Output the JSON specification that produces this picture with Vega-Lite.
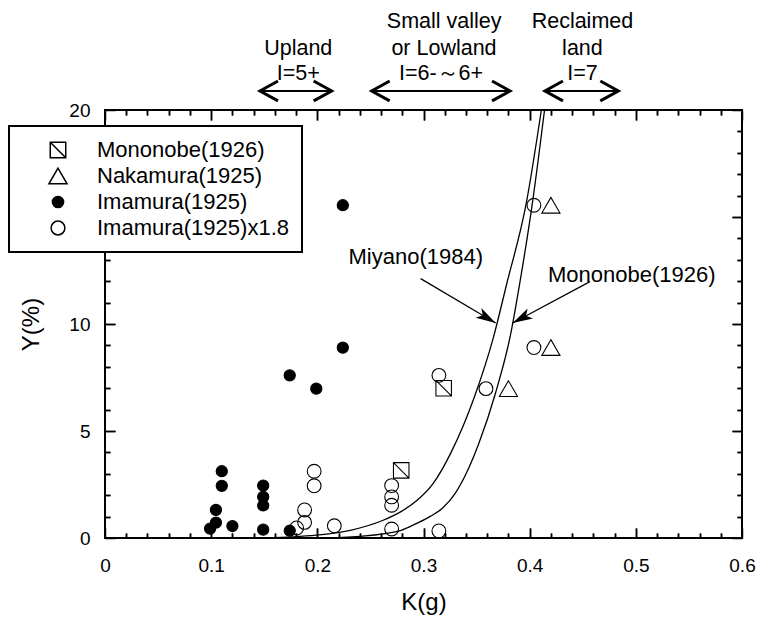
{
  "$schema": "https://vega.github.io/schema/vega-lite/v6.json",
  "width": 637,
  "height": 428,
  "autosize": {"type": "none"},
  "padding": {"left": 105, "top": 110, "right": 16, "bottom": 80},
  "background": "white",
  "config": {
    "view": {"stroke": "black", "strokeWidth": 2},
    "font": "Liberation Sans",
    "legend": {"strokeWidth": 2},
    "axis": {"gridColor": "black", "gridWidth": 1.5, "gridOpacity": 1, "domain": false, "ticks": false, "labelColor": "black", "titleColor": "black", "labelFont": "Liberation Sans", "titleFont": "Liberation Sans", "titleFontWeight": "normal"}
  },
  "datasets": {
    "points": [
      {"source": "Mononobe(1926)", "K": 0.279, "Y": 3.16},
      {"source": "Mononobe(1926)", "K": 0.319, "Y": 7.0},
      {"source": "Nakamura(1925)", "K": 0.380, "Y": 6.98},
      {"source": "Nakamura(1925)", "K": 0.420, "Y": 15.55},
      {"source": "Nakamura(1925)", "K": 0.420, "Y": 8.9},
      {"source": "Imamura(1925)", "K": 0.099, "Y": 0.44},
      {"source": "Imamura(1925)", "K": 0.1045, "Y": 0.72},
      {"source": "Imamura(1925)", "K": 0.1045, "Y": 1.31},
      {"source": "Imamura(1925)", "K": 0.110, "Y": 2.44},
      {"source": "Imamura(1925)", "K": 0.110, "Y": 3.12},
      {"source": "Imamura(1925)", "K": 0.120, "Y": 0.56},
      {"source": "Imamura(1925)", "K": 0.149, "Y": 2.45},
      {"source": "Imamura(1925)", "K": 0.149, "Y": 1.92},
      {"source": "Imamura(1925)", "K": 0.149, "Y": 1.52},
      {"source": "Imamura(1925)", "K": 0.149, "Y": 0.39},
      {"source": "Imamura(1925)", "K": 0.174, "Y": 0.34},
      {"source": "Imamura(1925)", "K": 0.174, "Y": 7.6},
      {"source": "Imamura(1925)", "K": 0.199, "Y": 6.98},
      {"source": "Imamura(1925)", "K": 0.224, "Y": 15.55},
      {"source": "Imamura(1925)", "K": 0.224, "Y": 8.9},
      {"source": "Imamura(1925)x1.8", "K": 0.1805, "Y": 0.47},
      {"source": "Imamura(1925)x1.8", "K": 0.188, "Y": 0.73},
      {"source": "Imamura(1925)x1.8", "K": 0.188, "Y": 1.31},
      {"source": "Imamura(1925)x1.8", "K": 0.197, "Y": 2.44},
      {"source": "Imamura(1925)x1.8", "K": 0.197, "Y": 3.12},
      {"source": "Imamura(1925)x1.8", "K": 0.216, "Y": 0.57},
      {"source": "Imamura(1925)x1.8", "K": 0.270, "Y": 2.45},
      {"source": "Imamura(1925)x1.8", "K": 0.270, "Y": 1.92},
      {"source": "Imamura(1925)x1.8", "K": 0.270, "Y": 1.53},
      {"source": "Imamura(1925)x1.8", "K": 0.270, "Y": 0.42},
      {"source": "Imamura(1925)x1.8", "K": 0.3145, "Y": 0.33},
      {"source": "Imamura(1925)x1.8", "K": 0.3145, "Y": 7.6},
      {"source": "Imamura(1925)x1.8", "K": 0.3588, "Y": 6.98},
      {"source": "Imamura(1925)x1.8", "K": 0.404, "Y": 15.55},
      {"source": "Imamura(1925)x1.8", "K": 0.404, "Y": 8.9}
    ],
    "curves": [
      {"curve": "Miyano(1984)", "K": 0.150, "Y": 0.0},
      {"curve": "Miyano(1984)", "K": 0.177, "Y": 0.05},
      {"curve": "Miyano(1984)", "K": 0.199, "Y": 0.13},
      {"curve": "Miyano(1984)", "K": 0.231, "Y": 0.36},
      {"curve": "Miyano(1984)", "K": 0.262, "Y": 0.83},
      {"curve": "Miyano(1984)", "K": 0.278, "Y": 1.21},
      {"curve": "Miyano(1984)", "K": 0.294, "Y": 1.76},
      {"curve": "Miyano(1984)", "K": 0.309, "Y": 2.54},
      {"curve": "Miyano(1984)", "K": 0.326, "Y": 4.0},
      {"curve": "Miyano(1984)", "K": 0.348, "Y": 6.6},
      {"curve": "Miyano(1984)", "K": 0.366, "Y": 9.4},
      {"curve": "Miyano(1984)", "K": 0.378, "Y": 11.8},
      {"curve": "Miyano(1984)", "K": 0.397, "Y": 15.7},
      {"curve": "Miyano(1984)", "K": 0.411, "Y": 20.0},
      {"curve": "Mononobe(1926)", "K": 0.200, "Y": 0.0},
      {"curve": "Mononobe(1926)", "K": 0.240, "Y": 0.08},
      {"curve": "Mononobe(1926)", "K": 0.279, "Y": 0.36},
      {"curve": "Mononobe(1926)", "K": 0.293, "Y": 0.67},
      {"curve": "Mononobe(1926)", "K": 0.306, "Y": 1.0},
      {"curve": "Mononobe(1926)", "K": 0.318, "Y": 1.4},
      {"curve": "Mononobe(1926)", "K": 0.330, "Y": 2.1},
      {"curve": "Mononobe(1926)", "K": 0.342, "Y": 3.2},
      {"curve": "Mononobe(1926)", "K": 0.352, "Y": 4.4},
      {"curve": "Mononobe(1926)", "K": 0.368, "Y": 6.8},
      {"curve": "Mononobe(1926)", "K": 0.382, "Y": 9.5},
      {"curve": "Mononobe(1926)", "K": 0.391, "Y": 12.0},
      {"curve": "Mononobe(1926)", "K": 0.403, "Y": 15.8},
      {"curve": "Mononobe(1926)", "K": 0.414, "Y": 20.0}
    ],
    "labels": [
      {"text": "Upland", "K": 0.182, "Y": 22.87},
      {"text": "I=5+", "K": 0.182, "Y": 21.70},
      {"text": "Small valley", "K": 0.3195, "Y": 24.11},
      {"text": "or Lowland", "K": 0.3193, "Y": 22.87},
      {"text": "I=6-～6+", "K": 0.3165, "Y": 21.70},
      {"text": "Reclaimed", "K": 0.4497, "Y": 24.11},
      {"text": "land", "K": 0.4497, "Y": 22.87},
      {"text": "I=7", "K": 0.4497, "Y": 21.70}
    ],
    "notes": [
      {"text": "Miyano(1984)", "K": 0.2927, "Y": 13.13},
      {"text": "Mononobe(1926)", "K": 0.4962, "Y": 12.31}
    ],
    "ranges": [
      {"zone": "Upland", "K1": 0.146, "K2": 0.2135, "Y": 20.89},
      {"zone": "Small valley or Lowland", "K1": 0.2512, "K2": 0.3815, "Y": 20.89},
      {"zone": "Reclaimed land", "K1": 0.4144, "K2": 0.4835, "Y": 20.89}
    ],
    "pointers": [
      {"name": "Miyano(1984)", "K1": 0.2973, "Y1": 12.12, "K2": 0.368, "Y2": 10.05},
      {"name": "Mononobe(1926)", "K1": 0.4568, "Y1": 11.98, "K2": 0.384, "Y2": 10.05}
    ]
  },
  "layer": [
    {
      "data": {"name": "curves"},
      "mark": {"type": "line", "stroke": "black", "strokeWidth": 1.3, "interpolate": "monotone"},
      "encoding": {
        "x": {"field": "K", "type": "quantitative", "scale": {"domain": [0, 0.6], "nice": false, "zero": false},
          "axis": {"orient": "top", "values": [0.1, 0.2, 0.3, 0.4, 0.5], "labels": false, "title": null, "grid": true, "gridDash": [10, 408, 10, 2000]}},
        "y": {"field": "Y", "type": "quantitative", "scale": {"domain": [0, 20], "nice": false, "zero": false},
          "axis": {"orient": "right", "values": [5, 10, 15], "labels": false, "title": null, "grid": true, "gridDash": [10, 617, 10, 2000]}},
        "detail": {"field": "curve", "type": "nominal"},
        "order": {"field": "K", "type": "quantitative"}
      }
    },
    {
      "data": {"name": "points"},
      "mark": {"type": "point", "filled": true, "opacity": 1, "stroke": "black", "strokeWidth": 1.1},
      "encoding": {
        "x": {"field": "K", "type": "quantitative", "scale": {"domain": [0, 0.6], "nice": false, "zero": false},
          "axis": {"orient": "bottom", "values": [0, 0.1, 0.2, 0.3, 0.4, 0.5, 0.6], "grid": true, "gridDash": [10, 408, 10, 2000],
            "labelExpr": "datum.value == 0 ? '0' : format(datum.value, '.1f')",
            "labelFlush": false, "labelOverlap": false, "labelFontSize": 19, "labelPadding": 18,
            "title": "K(g)", "titleFontSize": 24, "titlePadding": 15}},
        "y": {"field": "Y", "type": "quantitative", "scale": {"domain": [0, 20], "nice": false, "zero": false},
          "axis": {"orient": "left", "values": [0, 5, 10, 15, 20], "grid": true, "gridDash": [10, 617, 10, 2000],
            "labelFlush": false, "labelOverlap": false, "labelFontSize": 19, "labelPadding": 15,
            "title": "Y(%)", "titleFontSize": 24, "titlePadding": 25}},
        "shape": {"field": "source", "type": "nominal",
          "scale": {"domain": ["Mononobe(1926)", "Nakamura(1925)", "Imamura(1925)", "Imamura(1925)x1.8"],
            "range": ["M-1,-1H1V1H-1ZM-1,-1L1,1", "triangle-up", "circle", "circle"]},
          "legend": {"orient": "none", "legendX": -96, "legendY": 16, "title": null, "padding": 13,
            "fillColor": "white", "strokeColor": "black",
            "labelFontSize": 22, "labelFont": "Liberation Sans", "labelColor": "black", "labelOffset": 28, "symbolOffset": 25,
            "rowPadding": 4, "symbolStrokeWidth": 1.5, "symbolStrokeColor": "black", "labelLimit": 400}},
        "fill": {"field": "source", "type": "nominal",
          "scale": {"domain": ["Mononobe(1926)", "Nakamura(1925)", "Imamura(1925)", "Imamura(1925)x1.8"],
            "range": ["transparent", "transparent", "black", "transparent"]},
          "legend": {"orient": "none", "legendX": -96, "legendY": 16, "title": null}},
        "size": {"field": "source", "type": "nominal",
          "scale": {"type": "ordinal", "domain": ["Mononobe(1926)", "Nakamura(1925)", "Imamura(1925)", "Imamura(1925)x1.8"],
            "range": [240, 330, 125, 190]},
          "legend": {"orient": "none", "legendX": -96, "legendY": 16, "title": null}}
      }
    },
    {
      "data": {"name": "labels"},
      "mark": {"type": "text", "font": "Liberation Sans", "fontSize": 21.5, "align": "center", "baseline": "middle", "color": "black"},
      "encoding": {
        "x": {"field": "K", "type": "quantitative", "scale": {"domain": [0, 0.6], "nice": false, "zero": false},
          "axis": {"orient": "bottom", "values": [0.02,0.04,0.06,0.08,0.12,0.14,0.16,0.18,0.22,0.24,0.26,0.28,0.32,0.34,0.36,0.38,0.42,0.44,0.46,0.48,0.52,0.54,0.56,0.58],
            "labels": false, "title": null, "grid": true, "gridDash": [5, 418, 5, 2000]}},
        "y": {"field": "Y", "type": "quantitative", "scale": {"domain": [0, 20], "nice": false, "zero": false},
          "axis": {"orient": "left", "values": [1,2,3,4,6,7,8,9,11,12,13,14,16,17,18,19],
            "labels": false, "title": null, "grid": true, "gridDash": [5, 627, 5, 2000]}},
        "text": {"field": "text"}
      }
    },
    {
      "data": {"name": "notes"},
      "mark": {"type": "text", "font": "Liberation Sans", "fontSize": 22, "align": "center", "baseline": "middle", "color": "black"},
      "encoding": {
        "x": {"field": "K", "type": "quantitative", "scale": {"domain": [0, 0.6], "nice": false, "zero": false},
          "axis": {"orient": "top", "values": [0.02,0.04,0.06,0.08,0.12,0.14,0.16,0.18,0.22,0.24,0.26,0.28,0.32,0.34,0.36,0.38,0.42,0.44,0.46,0.48,0.52,0.54,0.56,0.58],
            "labels": false, "title": null, "grid": true, "gridDash": [5, 418, 5, 2000]}},
        "y": {"field": "Y", "type": "quantitative", "scale": {"domain": [0, 20], "nice": false, "zero": false},
          "axis": {"orient": "right", "values": [1,2,3,4,6,7,8,9,11,12,13,14,16,17,18,19],
            "labels": false, "title": null, "grid": true, "gridDash": [5, 627, 5, 2000]}},
        "text": {"field": "text"}
      }
    },
    {
      "data": {"name": "ranges"},
      "mark": {"type": "rule", "stroke": "black", "strokeWidth": 2},
      "encoding": {
        "x": {"field": "K1", "type": "quantitative", "scale": {"domain": [0, 0.6], "nice": false, "zero": false}, "axis": null},
        "x2": {"field": "K2"},
        "y": {"field": "Y", "type": "quantitative", "scale": {"domain": [0, 20], "nice": false, "zero": false}, "axis": null}
      }
    },
    {
      "data": {"name": "ranges"},
      "mark": {"type": "point", "shape": "M-0.55,1L0,0L0.55,1", "size": 1296, "angle": 270, "filled": false, "stroke": "black", "strokeWidth": 3, "opacity": 1},
      "encoding": {
        "x": {"field": "K1", "type": "quantitative", "scale": {"domain": [0, 0.6], "nice": false, "zero": false}, "axis": null},
        "y": {"field": "Y", "type": "quantitative", "scale": {"domain": [0, 20], "nice": false, "zero": false}, "axis": null}
      }
    },
    {
      "data": {"name": "ranges"},
      "mark": {"type": "point", "shape": "M-0.55,1L0,0L0.55,1", "size": 1296, "angle": 90, "filled": false, "stroke": "black", "strokeWidth": 3, "opacity": 1},
      "encoding": {
        "x": {"field": "K2", "type": "quantitative", "scale": {"domain": [0, 0.6], "nice": false, "zero": false}, "axis": null},
        "y": {"field": "Y", "type": "quantitative", "scale": {"domain": [0, 20], "nice": false, "zero": false}, "axis": null}
      }
    },
    {
      "data": {"name": "pointers"},
      "mark": {"type": "rule", "stroke": "black", "strokeWidth": 1.2},
      "encoding": {
        "x": {"field": "K1", "type": "quantitative", "scale": {"domain": [0, 0.6], "nice": false, "zero": false}, "axis": null},
        "y": {"field": "Y1", "type": "quantitative", "scale": {"domain": [0, 20], "nice": false, "zero": false}, "axis": null},
        "x2": {"field": "K2"},
        "y2": {"field": "Y2"}
      }
    },
    {
      "data": {"name": "pointers"},
      "transform": [{"filter": "datum.name == 'Miyano(1984)'"}],
      "mark": {"type": "point", "shape": "M0,0L-0.45,1.6L0,1.2L0.45,1.6Z", "size": 625, "angle": 120.5, "filled": true, "fill": "black", "strokeWidth": 0, "opacity": 1},
      "encoding": {
        "x": {"field": "K2", "type": "quantitative", "scale": {"domain": [0, 0.6], "nice": false, "zero": false}, "axis": null},
        "y": {"field": "Y2", "type": "quantitative", "scale": {"domain": [0, 20], "nice": false, "zero": false}, "axis": null}
      }
    },
    {
      "data": {"name": "pointers"},
      "transform": [{"filter": "datum.name == 'Mononobe(1926)'"}],
      "mark": {"type": "point", "shape": "M0,0L-0.45,1.6L0,1.2L0.45,1.6Z", "size": 625, "angle": 241.9, "filled": true, "fill": "black", "strokeWidth": 0, "opacity": 1},
      "encoding": {
        "x": {"field": "K2", "type": "quantitative", "scale": {"domain": [0, 0.6], "nice": false, "zero": false}, "axis": null},
        "y": {"field": "Y2", "type": "quantitative", "scale": {"domain": [0, 20], "nice": false, "zero": false}, "axis": null}
      }
    }
  ],
  "resolve": {"axis": {"x": "independent", "y": "independent"}}
}
